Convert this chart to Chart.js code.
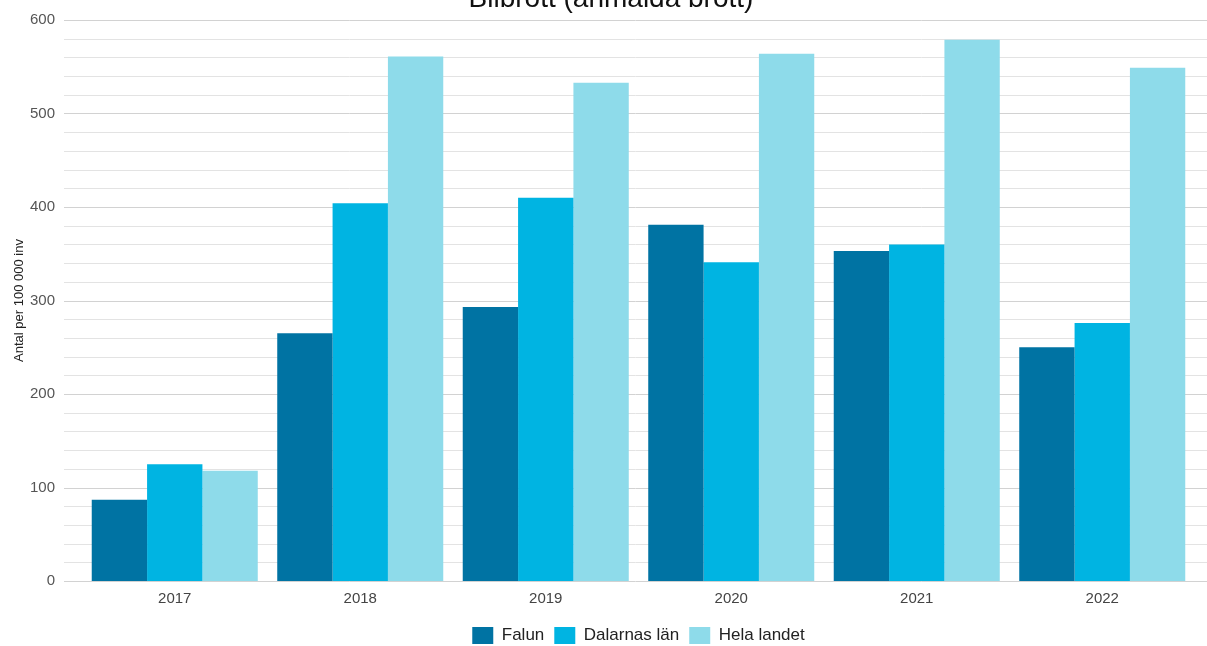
<!DOCTYPE html>
<html>
<head>
<meta charset="utf-8">
<script src="https://cdn.jsdelivr.net/npm/chart.js@4"></script>
<style>
    body { margin: 0; background: #fff; }
    #wrap { width: 1207px; height: 646px; }
</style>
</head>
<body>
<div id="wrap"><canvas id="chart" width="1207" height="646"></canvas></div>
<script>
// Data
const years = ['2017', '2018', '2019', '2020', '2021', '2022'];
const falun = [87, 265, 293, 381, 353, 250];
const dalarna = [125, 404, 410, 341, 360, 276];
const helaLandet = [118, 561, 533, 564, 579, 549];
const seriesNames = ['Falun', 'Dalarnas län', 'Hela landet'];
const seriesColors = ['#0073a3', '#00b4e2', '#8edbea'];
const titleText = 'Bilbrott (anmälda brott)';
const yTitle = 'Antal per 100 000 inv';

const FONT = '"Liberation Sans", Arial, sans-serif';

// Grid lines run past the plot area on both sides, like the original
const gridPlugin = {
    id: 'wideGrid',
    beforeDatasetsDraw(chart) {
        const ctx = chart.ctx;
        const y = chart.scales.y;
        ctx.save();
        ctx.lineWidth = 1;
        for (let v = 0; v <= 600; v += 20) {
            const py = Math.round(y.getPixelForValue(v)) + 0.5;
            ctx.strokeStyle = v % 100 === 0 ? '#d2d2d2' : '#e3e3e3';
            ctx.beginPath();
            ctx.moveTo(64, py);
            ctx.lineTo(chart.width, py);
            ctx.stroke();
        }
        ctx.restore();
    }
};

// Title sits partly above the top edge in the reference
const titlePlugin = {
    id: 'cutTitle',
    afterDraw(chart) {
        const ctx = chart.ctx;
        ctx.save();
        ctx.font = '28px ' + FONT;
        ctx.fillStyle = '#111';
        ctx.textAlign = 'center';
        ctx.textBaseline = 'alphabetic';
        ctx.fillText(titleText, 611, 7);
        ctx.restore();
    }
};

// Legend is centred under the plot area, not the whole canvas
const legendShift = {
    id: 'legendShift',
    afterLayout(chart) {
        const lg = chart.legend;
        const ca = chart.chartArea;
        lg.left = ca.left;
        lg.right = ca.right;
        lg.width = ca.right - ca.left;
    }
};

new Chart(document.getElementById('chart'), {
    type: 'bar',
    data: {
        labels: years,
        datasets: [falun, dalarna, helaLandet].map((d, i) => ({
            label: seriesNames[i],
            data: d,
            backgroundColor: seriesColors[i],
            borderWidth: 0,
            barPercentage: 1,
            categoryPercentage: 0.895
        }))
    },
    options: {
        responsive: false,
        animation: false,
        layout: { padding: { top: 20, right: 12, left: 8, bottom: -8 } },
        plugins: {
            legend: {
                position: 'bottom',
                labels: {
                    boxWidth: 21,
                    boxHeight: 17,
                    padding: 10,
                    color: '#222',
                    font: { family: FONT, size: 17 }
                }
            },
            title: { display: false },
            tooltip: { enabled: false }
        },
        scales: {
            x: {
                grid: { display: false, drawTicks: false },
                border: { display: false },
                ticks: {
                    color: '#444',
                    padding: 9,
                    font: { family: FONT, size: 15 }
                }
            },
            y: {
                min: 0,
                max: 600,
                grid: { display: false, drawTicks: false },
                border: { display: false },
                afterFit(scale) {
                    scale.width = 74;
                    scale.paddingTop = 0;
                    scale.paddingBottom = 0;
                },
                ticks: {
                    stepSize: 20,
                    autoSkip: false,
                    padding: 27,
                    color: '#555',
                    font: { family: FONT, size: 15 },
                    callback: v => (v % 100 === 0 ? v : '')
                },
                title: {
                    display: true,
                    text: yTitle,
                    color: '#222',
                    padding: 4,
                    font: { family: FONT, size: 13 }
                }
            }
        }
    },
    plugins: [gridPlugin, titlePlugin, legendShift]
});
</script>
</body>
</html>
